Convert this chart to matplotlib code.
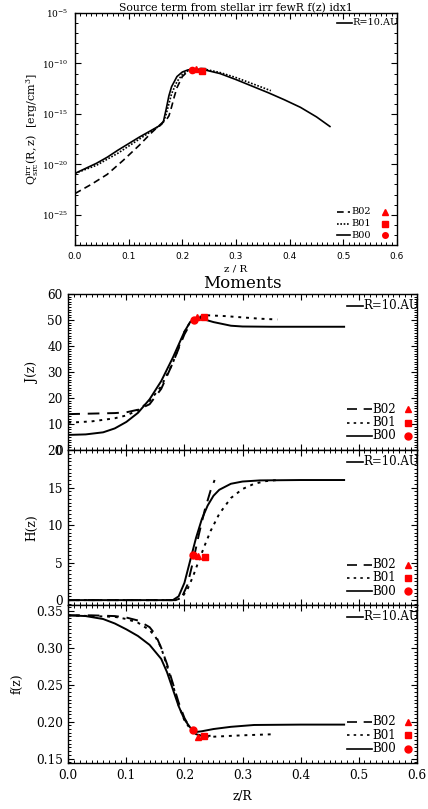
import numpy as np
import matplotlib
matplotlib.use("Agg")
import matplotlib.pyplot as plt
from matplotlib.ticker import FixedLocator, MultipleLocator, FuncFormatter

plt.rcParams['mathtext.fontset'] = 'dejavuserif'

# ---------------- data: top panel (log10 of Q_src^irr) ----------------
qz_b00 = [0, 0.02, 0.04, 0.06, 0.08, 0.10, 0.12, 0.14, 0.16, 0.165, 0.17, 0.175, 0.18,
          0.19, 0.20, 0.21, 0.22, 0.24, 0.27, 0.30, 0.33, 0.36, 0.39, 0.42, 0.45, 0.475]
qlog_b00 = [-20.9, -20.4, -19.9, -19.3, -18.6, -17.95, -17.3, -16.7, -16.1, -15.7, -14.5,
            -13.2, -12.3, -11.3, -10.85, -10.65, -10.55, -10.62, -11.0, -11.6, -12.25,
            -12.9, -13.6, -14.35, -15.3, -16.25]
qz_b01 = [0, 0.04, 0.08, 0.10, 0.12, 0.14, 0.16, 0.165, 0.17, 0.175, 0.18, 0.19, 0.20,
          0.21, 0.22, 0.24, 0.27, 0.30, 0.33, 0.365]
qlog_b01 = [-20.9, -20.1, -18.9, -18.2, -17.5, -16.8, -16.1, -15.8, -15.0, -14.0, -13.0,
            -11.8, -11.1, -10.75, -10.6, -10.55, -10.9, -11.4, -12.0, -12.7]
qz_b02 = [0, 0.03, 0.06, 0.09, 0.12, 0.14, 0.16, 0.17, 0.175, 0.18, 0.185, 0.19, 0.20,
          0.21, 0.22, 0.235, 0.25]
qlog_b02 = [-22.9, -22.0, -21.0, -19.6, -18.1, -17.0, -16.0, -15.6, -15.2, -14.3, -13.3,
            -12.4, -11.3, -10.8, -10.6, -10.5, -10.55]
# red markers (B02 triangle, B01 square, B00 circle)
qmark_z = [0.225, 0.237, 0.218]
qmark_log = [-10.56, -10.73, -10.62]

# ---------------- data: J(z) ----------------
jz_b00 = [0, 0.03, 0.06, 0.08, 0.10, 0.12, 0.14, 0.16, 0.18, 0.19, 0.20, 0.21, 0.22,
          0.23, 0.25, 0.28, 0.30, 0.35, 0.40, 0.475]
j_b00 = [5.8, 6.0, 6.8, 8.3, 10.8, 14.3, 19.5, 26.5, 35.5, 40.5, 45.5, 49.3, 50.6,
         50.5, 49.2, 47.8, 47.5, 47.4, 47.4, 47.4]
jz_b01 = [0, 0.04, 0.08, 0.10, 0.12, 0.14, 0.16, 0.18, 0.19, 0.20, 0.21, 0.22, 0.24,
          0.27, 0.30, 0.33, 0.36]
j_b01 = [10.5, 11.0, 12.2, 13.3, 15.3, 18.8, 24.5, 33.5, 39.5, 45.5, 49.2, 51.0, 51.8,
         51.5, 51.0, 50.5, 50.2]
jz_b02 = [0, 0.04, 0.08, 0.10, 0.12, 0.14, 0.16, 0.18, 0.19, 0.20, 0.21, 0.22, 0.24]
j_b02 = [13.8, 14.0, 14.2, 14.5, 15.5, 17.6, 23.5, 33.5, 39.0, 44.5, 48.5, 50.6, 51.4]
jmark_z = [0.222, 0.234, 0.217]
jmark_v = [51.3, 51.3, 50.0]

# ---------------- data: H(z) ----------------
hz_b00 = [0, 0.10, 0.18, 0.19, 0.20, 0.21, 0.22, 0.23, 0.24, 0.25, 0.26, 0.28, 0.30,
          0.33, 0.40, 0.475]
h_b00 = [0.0, 0.0, 0.0, 0.5, 2.3, 5.3, 8.3, 10.8, 12.6, 13.9, 14.7, 15.5, 15.8, 15.95,
         16.0, 16.0]
hz_b01 = [0, 0.10, 0.185, 0.195, 0.205, 0.215, 0.225, 0.235, 0.245, 0.26, 0.28, 0.30,
          0.32, 0.34, 0.36]
h_b01 = [0.0, 0.0, 0.0, 0.3, 1.4, 3.2, 5.3, 7.3, 9.2, 11.5, 13.6, 14.8, 15.5, 15.85, 16.0]
hz_b02 = [0, 0.10, 0.185, 0.195, 0.205, 0.215, 0.225, 0.235, 0.245, 0.252]
h_b02 = [0.0, 0.0, 0.0, 0.3, 2.0, 5.2, 8.8, 12.0, 14.6, 16.0]
hmark_z = [0.224, 0.235, 0.214]
hmark_v = [5.9, 5.8, 6.0]

# ---------------- data: f(z) ----------------
fz_b00 = [0, 0.03, 0.06, 0.08, 0.10, 0.12, 0.14, 0.16, 0.17, 0.18, 0.19, 0.20, 0.21,
          0.22, 0.23, 0.25, 0.28, 0.32, 0.40, 0.475]
f_b00 = [0.344, 0.343, 0.339, 0.333, 0.325, 0.316, 0.304, 0.285, 0.267, 0.244, 0.221,
         0.203, 0.192, 0.186, 0.187, 0.190, 0.193, 0.1955, 0.196, 0.196]
fz_b01 = [0, 0.04, 0.08, 0.10, 0.12, 0.14, 0.15, 0.16, 0.17, 0.18, 0.19, 0.20, 0.21,
          0.22, 0.235, 0.26, 0.30, 0.355]
f_b01 = [0.344, 0.343, 0.342, 0.339, 0.334, 0.324, 0.315, 0.300, 0.275, 0.250, 0.222,
         0.202, 0.190, 0.183, 0.179, 0.180, 0.1815, 0.183]
fz_b02 = [0, 0.04, 0.08, 0.10, 0.12, 0.14, 0.15, 0.16, 0.17, 0.18, 0.19, 0.20, 0.21,
          0.22, 0.235, 0.245]
f_b02 = [0.344, 0.344, 0.343, 0.341, 0.337, 0.328, 0.318, 0.300, 0.278, 0.252, 0.226,
         0.205, 0.191, 0.183, 0.180, 0.181]
fmark_z = [0.223, 0.234, 0.215]
fmark_v = [0.179, 0.180, 0.189]

series_names = ['B02', 'B01', 'B00']
marker_shapes = ['^', 's', 'o']
radius_label = 'R=10.AU'

# ---------------- figure ----------------
fig = plt.figure(figsize=(4.28, 8.09), dpi=100)

def style_ticks(ax, fs, family, pad=3):
    ax.tick_params(which='both', direction='in', top=True, right=True)
    ax.tick_params(which='major', length=4.5, width=0.8, labelsize=fs, pad=pad)
    ax.tick_params(which='minor', length=2.2, width=0.7)
    for lab in ax.get_xticklabels() + ax.get_yticklabels():
        lab.set_family(family)
    for s in ax.spines.values():
        s.set_linewidth(1.0)

# ---- top panel ----
ax0 = fig.add_axes([75/428, 1-245/809, 322/428, 232/809])
ls_top = {'B02': (0, (4, 2.5)), 'B01': (0, (1, 1)), 'B00': '-'}
ax0.plot(qz_b00, 10**np.array(qlog_b00), color='k', lw=1.2, ls=ls_top['B00'])
ax0.plot(qz_b01, 10**np.array(qlog_b01), color='k', lw=1.2, ls=ls_top['B01'])
ax0.plot(qz_b02, 10**np.array(qlog_b02), color='k', lw=1.2, ls=ls_top['B02'])
for m, zz, vv in zip(marker_shapes, qmark_z, qmark_log):
    ax0.plot([zz], [10**vv], marker=m, color='red', ms=4.5, ls='none')
ax0.set_yscale('log')
ax0.set_xlim(0, 0.6)
ax0.set_ylim(1e-28, 1e-5)
ax0.yaxis.set_major_locator(FixedLocator([1e-25, 1e-20, 1e-15, 1e-10, 1e-5]))
ax0.yaxis.set_minor_locator(FixedLocator([10.0**k for k in range(-28, -4)]))
ax0.yaxis.set_major_formatter(FuncFormatter(lambda v, p: r'$10^{%d}$' % round(np.log10(v))))
ax0.yaxis.set_minor_formatter(FuncFormatter(lambda v, p: ''))
ax0.xaxis.set_major_locator(MultipleLocator(0.1))
ax0.xaxis.set_minor_locator(MultipleLocator(0.01))
ax0.xaxis.set_major_formatter(FuncFormatter(lambda v, p: '%.1f' % v))
style_ticks(ax0, 6.5, 'DejaVu Sans', pad=5)
ax0.set_title('Source term from stellar irr fewR f(z) idx1', family='DejaVu Serif',
              fontsize=7.8, pad=1.5)
ax0.set_xlabel('z / R', family='DejaVu Serif', fontsize=7.5)
ax0.xaxis.set_label_coords(0.5, -0.082)
ax0.set_ylabel(r'$\mathrm{Q^{irr}_{src}(R,z)}$  [erg/cm$^3$]', family='DejaVu Serif',
               fontsize=8)
ax0.yaxis.set_label_coords(-0.105, 0.5)
# legend
ax0.plot([0.813, 0.86], [0.958, 0.958], transform=ax0.transAxes, color='k', lw=1.2)
ax0.text(0.862, 0.958, radius_label, transform=ax0.transAxes, fontsize=7,
         family='DejaVu Serif', va='center')
for name, yy, m in zip(series_names, [0.143, 0.091, 0.041], marker_shapes):
    ax0.plot([0.813, 0.855], [yy, yy], transform=ax0.transAxes, color='k', lw=1.2,
             ls=ls_top[name])
    ax0.text(0.857, yy, name, transform=ax0.transAxes, fontsize=7, family='DejaVu Serif',
             va='center')
    ax0.plot([0.963], [yy], transform=ax0.transAxes, marker=m, color='red', ms=4,
             ls='none')

# ---- moments panels ----
fig.text(0.5 * (68.3 + 416.7) / 428, 1 - 283/809, 'Moments', ha='center', va='center',
         family='DejaVu Serif', fontsize=12)

ls_mom = {'B02': (0, (6, 4)), 'B01': (0, (1.5, 2.5)), 'B00': '-'}
panels = [
    ('J(z)', (0, 60), 10, 1, [(jz_b00, j_b00), (jz_b01, j_b01), (jz_b02, j_b02)],
     (jmark_z, jmark_v), 294, 450, -0.085, '%d'),
    ('H(z)', (-0.65, 20), 5, 0.5, [(hz_b00, h_b00), (hz_b01, h_b01), (hz_b02, h_b02)],
     (hmark_z, hmark_v), 450, 605, -0.085, '%d'),
    ('f(z)', (0.144, 0.358), 0.05, 0.005, [(fz_b00, f_b00), (fz_b01, f_b01), (fz_b02, f_b02)],
     (fmark_z, fmark_v), 605, 763, -0.128, '%.2f'),
]
leg_y = [0.26, 0.175, 0.09]
for i, (lab, ylim, maj, mnr, curves, marks, ytop, ybot, lx, fmt) in enumerate(panels):
    ax = fig.add_axes([68.3/428, 1-ybot/809, 348.4/428, (ybot-ytop)/809])
    for (zz, vv), nm in zip(curves, ['B00', 'B01', 'B02']):
        ax.plot(zz, vv, color='k', lw=1.4, ls=ls_mom[nm])
    for m, zz, vv in zip(marker_shapes, marks[0], marks[1]):
        ax.plot([zz], [vv], marker=m, color='red', ms=5, ls='none')
    ax.set_xlim(0, 0.6)
    ax.set_ylim(*ylim)
    ax.yaxis.set_major_locator(MultipleLocator(maj))
    ax.yaxis.set_minor_locator(MultipleLocator(mnr))
    ax.yaxis.set_major_formatter(FuncFormatter(lambda v, p, f=fmt: f % v))
    ax.xaxis.set_major_locator(MultipleLocator(0.1))
    ax.xaxis.set_minor_locator(MultipleLocator(0.01))
    ax.xaxis.set_major_formatter(FuncFormatter(lambda v, p: '%.1f' % v))
    if i < 2:
        ax.tick_params(labelbottom=False)
    style_ticks(ax, 8.7, 'DejaVu Serif', pad=4)
    ax.set_ylabel(lab, family='DejaVu Serif', fontsize=8.7)
    ax.yaxis.set_label_coords(lx, 0.5)
    if i == 2:
        ax.set_xlabel('z/R', family='DejaVu Serif', fontsize=8.7)
        ax.xaxis.set_label_coords(0.5, -0.17)
    # legend
    ax.plot([0.80, 0.846], [0.925, 0.925], transform=ax.transAxes, color='k', lw=1.2)
    ax.text(0.848, 0.925, radius_label, transform=ax.transAxes, fontsize=8.5,
            family='DejaVu Serif', va='center')
    for name, yy, m in zip(series_names, leg_y, marker_shapes):
        ax.plot([0.80, 0.873], [yy, yy], transform=ax.transAxes, color='k', lw=1.2,
                ls=ls_mom[name])
        ax.text(0.873, yy, name, transform=ax.transAxes, fontsize=8.5,
                family='DejaVu Serif', va='center')
        ax.plot([0.975], [yy], transform=ax.transAxes, marker=m, color='red', ms=5,
                ls='none', clip_on=False)

fig.savefig('out.png', dpi=100)
